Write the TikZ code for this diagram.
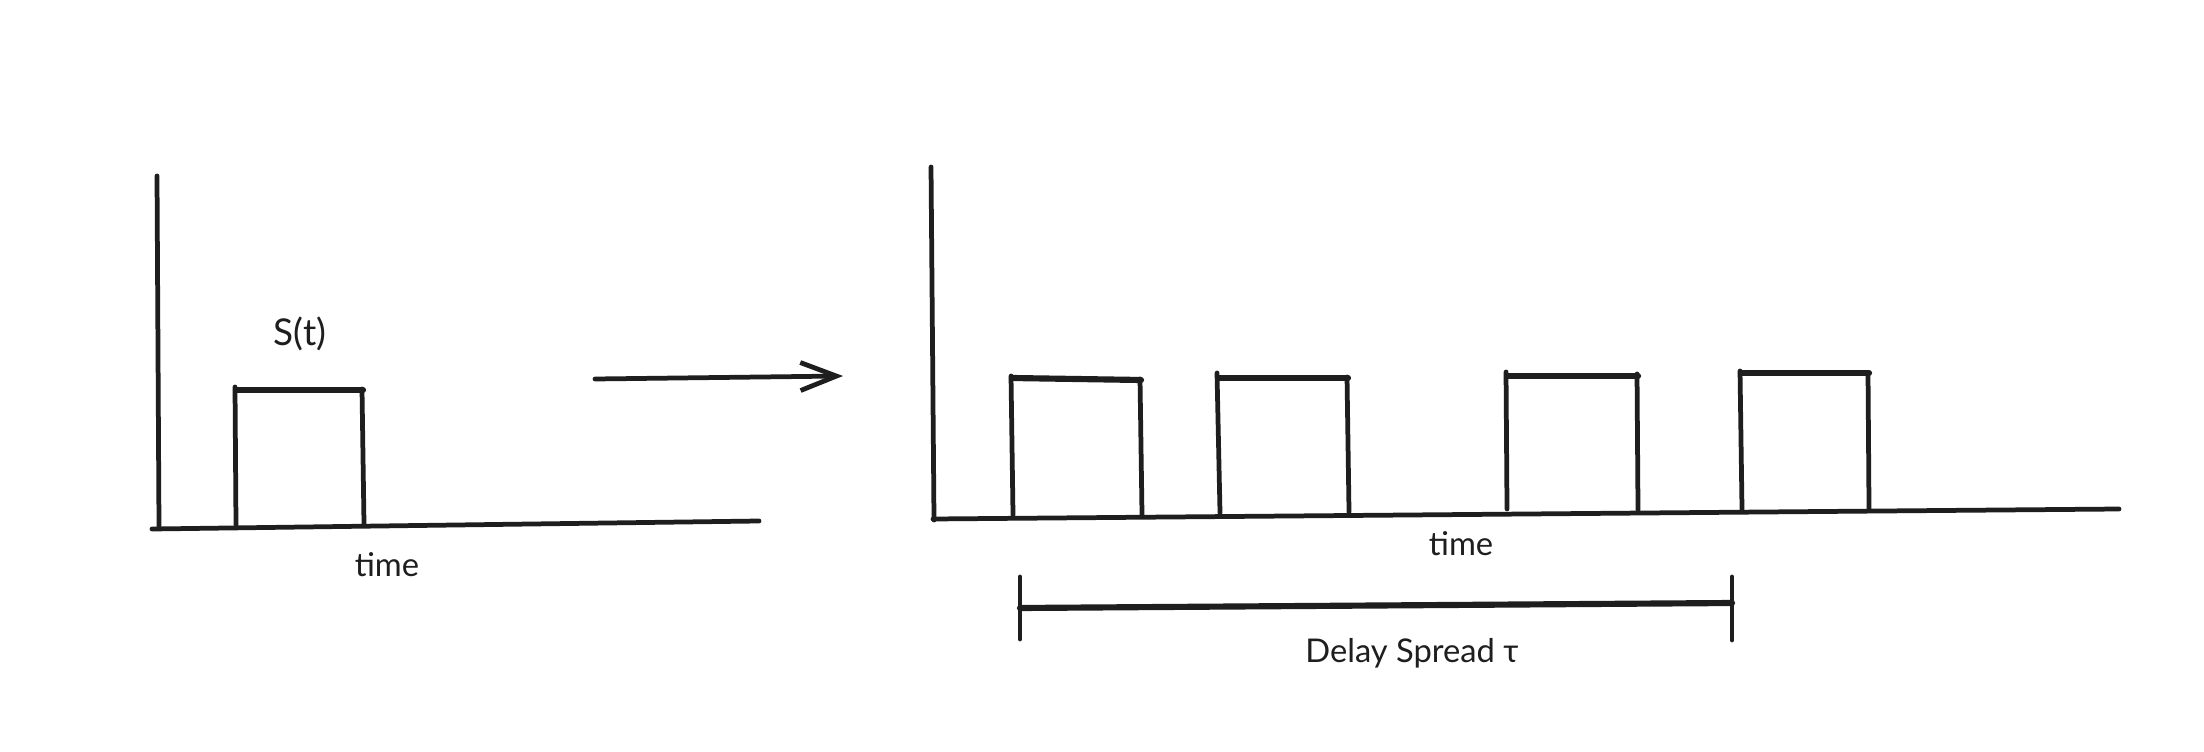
\documentclass[tikz,border=0pt]{standalone}
\usepackage{fontspec}
\setmainfont{Lato}
\usetikzlibrary{arrows.meta}
\definecolor{ink}{HTML}{1E1E1E}
\begin{document}
\begin{tikzpicture}[x=0.01cm,y=-0.01cm,line cap=round,line join=round,
  stroke/.style={draw=ink,line width=1.35pt},
  topstroke/.style={draw=ink,line width=1.75pt},
  lbl/.style={font=\fontsize{9.3}{11}\selectfont,text=ink,anchor=base,inner sep=0pt}]
\useasboundingbox[fill=white] (0,0) rectangle (2204,752);

% ---------- left panel ----------
\coordinate (LyT) at (157,176);
\coordinate (LyB) at (159,527);
\coordinate (LxL) at (152,529);
\coordinate (LxR) at (759,521);
\draw[stroke] (LyT) -- (LyB);
\draw[stroke] (LxL) -- (LxR);
% pulse
\coordinate (P0a) at (236,525); \coordinate (P0b) at (235,387);
\coordinate (P0c) at (236,390); \coordinate (P0d) at (363,390);
\coordinate (P0e) at (362,389); \coordinate (P0f) at (364,524);
\draw[stroke] (P0a) -- (P0b);
\draw[topstroke] (P0c) -- (P0d);
\draw[stroke] (P0e) -- (P0f);
\node[lbl,font=\fontsize{10.5}{12}\selectfont] (st) at (300,346) {S(t)};
\node[lbl] (time1) at (387,576) {time};

% ---------- arrow ----------
\coordinate (Aa) at (595,379);
\coordinate (Ab) at (843,376);
\draw[stroke,-{Straight Barb[length=3.6mm,width=2.8mm,line width=1.35pt]}] (Aa) -- (Ab);

% ---------- right panel ----------
\coordinate (RyT) at (931,167);
\coordinate (RyB) at (934,520);
\coordinate (RxL) at (933,519);
\coordinate (RxR) at (2119,509);
\draw[stroke] (RyT) -- (RyB);
\draw[stroke] (RxL) -- (RxR);

% pulse 1
\coordinate (Q1a) at (1013,515); \coordinate (Q1b) at (1011,376);
\coordinate (Q1c) at (1012,378); \coordinate (Q1d) at (1141,380);
\coordinate (Q1e) at (1140,379); \coordinate (Q1f) at (1142,515);
\draw[stroke] (Q1a) -- (Q1b);
\draw[topstroke] (Q1c) -- (Q1d);
\draw[stroke] (Q1e) -- (Q1f);
% pulse 2
\coordinate (Q2a) at (1220,513); \coordinate (Q2b) at (1217,373);
\coordinate (Q2c) at (1218,378); \coordinate (Q2d) at (1348,378);
\coordinate (Q2e) at (1347,377); \coordinate (Q2f) at (1349,512);
\draw[stroke] (Q2a) -- (Q2b);
\draw[topstroke] (Q2c) -- (Q2d);
\draw[stroke] (Q2e) -- (Q2f);
% pulse 3
\coordinate (Q3a) at (1507,509); \coordinate (Q3b) at (1506,372);
\coordinate (Q3c) at (1508,376); \coordinate (Q3d) at (1638,376);
\coordinate (Q3e) at (1637,374); \coordinate (Q3f) at (1638,510);
\draw[stroke] (Q3a) -- (Q3b);
\draw[topstroke] (Q3c) -- (Q3d);
\draw[stroke] (Q3e) -- (Q3f);
% pulse 4
\coordinate (Q4a) at (1742,510); \coordinate (Q4b) at (1740,371);
\coordinate (Q4c) at (1741,373); \coordinate (Q4d) at (1869,373);
\coordinate (Q4e) at (1868,374); \coordinate (Q4f) at (1869,509);
\draw[stroke] (Q4a) -- (Q4b);
\draw[topstroke] (Q4c) -- (Q4d);
\draw[stroke] (Q4e) -- (Q4f);

\node[lbl] (time2) at (1461,555) {time};

% ---------- delay spread bar ----------
\coordinate (DlT) at (1020,577); \coordinate (DlB) at (1020,639);
\coordinate (DrT) at (1732,577); \coordinate (DrB) at (1732,640);
\coordinate (Dl) at (1020,608); \coordinate (Dr) at (1732,603);
\draw[stroke] (DlT) -- (DlB);
\draw[stroke] (DrT) -- (DrB);
\draw[topstroke] (Dl) -- (Dr);
\node[lbl] (ds) at (1412,662) {Delay Spread τ};
\end{tikzpicture}
\end{document}
